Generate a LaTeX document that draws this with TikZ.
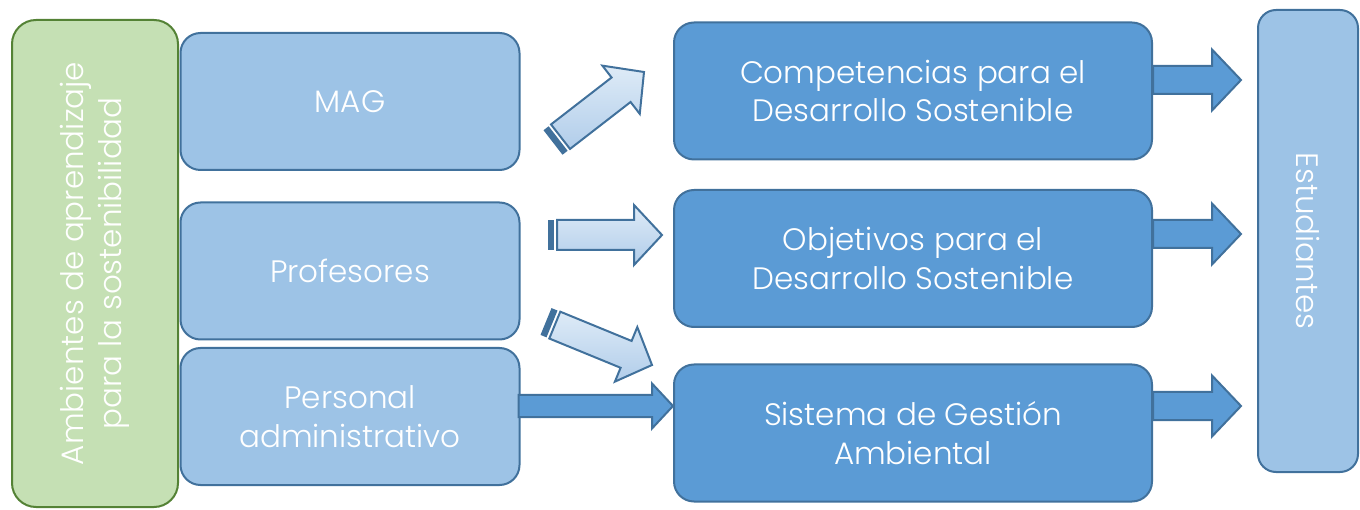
\documentclass[tikz,border=0pt]{standalone}
\usepackage{fontspec}
\setmainfont{Poppins}[UprightFont=* Light]
\usepackage{tikz}
\usetikzlibrary{calc,positioning}

\definecolor{boxlight}{HTML}{9DC3E6}
\definecolor{boxdark}{HTML}{5B9BD5}
\definecolor{boxline}{HTML}{41719C}
\definecolor{greenfill}{HTML}{C5E0B4}
\definecolor{greenline}{HTML}{548235}
\definecolor{gradtop}{HTML}{DEEBF7}
\definecolor{gradbot}{HTML}{B1CDEA}

% block arrow: style, tail, tip, shaft half width, head half width, head length
\newcommand{\blockarrow}[6]{%
  \coordinate (ba-h) at ($(#3)!#6!(#2)$);
  \draw[#1] ($(#2)!#4!90:(#3)$) -- ($(ba-h)!#4!90:(#3)$) -- ($(ba-h)!#5!90:(#3)$) -- (#3)
    -- ($(ba-h)!#5!-90:(#3)$) -- ($(ba-h)!#4!-90:(#3)$) -- ($(#2)!#4!-90:(#3)$) -- cycle;
}
% striped block arrow: tail, tip, shaft half width, head half width, head length
\newcommand{\stripedarrow}[5]{%
  \coordinate (sa-1) at ($(#1)!6.5pt!(#2)$);
  \coordinate (sa-2) at ($(#1)!9.5pt!(#2)$);
  \fill[boxline] ($(#1)!#3!90:(#2)$) -- ($(sa-1)!#3!90:(#2)$) -- ($(sa-1)!#3!-90:(#2)$) -- ($(#1)!#3!-90:(#2)$) -- cycle;
  \blockarrow{gradarrow}{sa-2}{#2}{#3}{#4}{#5}
}

\begin{document}
\begin{tikzpicture}[x=1pt,y=-1pt]
  % Styles
  \tikzset{
    box/.style={draw=boxline, line width=2pt, rounded corners=20pt, text=white, align=center,
      font=\fontsize{31}{38.5}\selectfont, inner sep=0pt, minimum height=137pt},
    source/.style={box, fill=boxlight, minimum width=339pt},
    goal/.style={box, fill=boxdark, minimum width=478pt},
    solidarrow/.style={fill=boxdark, draw=boxline, line width=2pt},
    gradarrow/.style={top color=gradtop, bottom color=gradbot, draw=boxline, line width=2pt}
  }
  \useasboundingbox (0,0) rectangle (1360,510);

  % Left column
  \node[box, fill=greenfill, draw=greenline, rotate=90, minimum width=487pt, minimum height=166pt, rounded corners=24pt]
    (amb) at (95,263.5) {Ambientes de aprendizaje\\para la sostenibilidad};
  \node[source] (mag) at (350,101.5) {MAG};
  \node[source] (prof) at (350,271) {Profesores};
  \node[source] (pers) at (350,416.5) {Personal\\administrativo};

  % Middle column
  \node[goal] (comp) at (913,91) {Competencias para el\\Desarrollo Sostenible};
  \node[goal] (obj) at (913,258.5) {Objetivos para el\\Desarrollo Sostenible};
  \node[goal] (sis) at (913,433) {Sistema de Gestión\\Ambiental};

  % Right column
  \node[box, fill=boxlight, rotate=-90, minimum width=462pt, minimum height=100pt, rounded corners=18pt]
    (est) at (1308,241) {Estudiantes};

  % Striped arrows
  \coordinate (mag-t) at ($(mag.east)+(32.5,41)$);
  \coordinate (comp-h) at ($(comp.west)+(-29,-19)$);
  \stripedarrow{mag-t}{comp-h}{15.5pt}{30.5pt}{29pt}
  \coordinate (prof-t1) at ($(prof.east)+(27,-36)$);
  \coordinate (obj-h) at ($(obj.west)+(-11,-23.5)$);
  \stripedarrow{prof-t1}{obj-h}{15pt}{30pt}{28pt}
  \coordinate (prof-t2) at ($(prof.east)+(25.5,50.5)$);
  \coordinate (sis-h1) at ($(sis.west)+(-21,-68)$);
  \stripedarrow{prof-t2}{sis-h1}{14.5pt}{29.5pt}{28pt}

  % Solid arrows
  \coordinate (pers-t) at ($(pers.east)+(-2,-10.5)$);
  \coordinate (sis-h2) at ($(sis.west |- pers-t)$);
  \blockarrow{solidarrow}{pers-t}{sis-h2}{11pt}{22.5pt}{21pt}

  \coordinate (comp-t) at ($(comp.east)+(0,-11)$);
  \coordinate (est-h1) at ($(est.south |- comp-t)+(-16,0)$);
  \blockarrow{solidarrow}{comp-t}{est-h1}{14pt}{30.5pt}{29pt}
  \coordinate (obj-t) at ($(obj.east)+(0,-24.5)$);
  \coordinate (est-h2) at ($(est.south |- obj-t)+(-16,0)$);
  \blockarrow{solidarrow}{obj-t}{est-h2}{14pt}{30.5pt}{29pt}
  \coordinate (sis-t) at ($(sis.east)+(0,-27)$);
  \coordinate (est-h3) at ($(est.south |- sis-t)+(-16,0)$);
  \blockarrow{solidarrow}{sis-t}{est-h3}{14pt}{30.5pt}{29pt}
\end{tikzpicture}
\end{document}
